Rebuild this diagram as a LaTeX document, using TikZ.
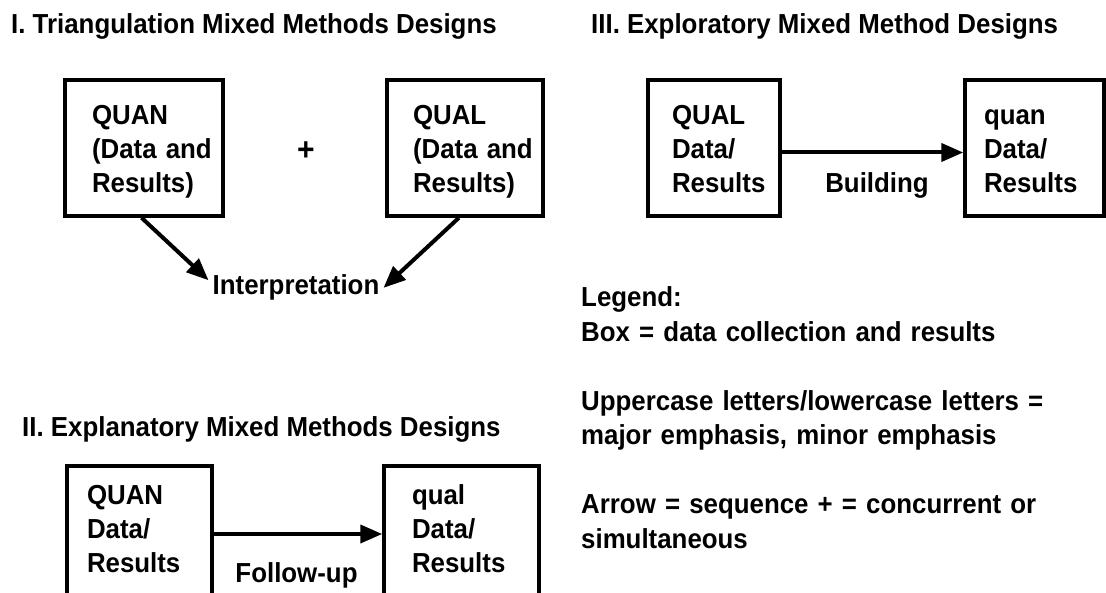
\documentclass[tikz,border=0pt]{standalone}
\usepackage{fontspec}
\setmainfont{Liberation Sans}[FakeStretch=0.94]
\usetikzlibrary{arrows.meta}
\begin{document}
\begin{tikzpicture}[x=1pt,y=-1pt,
  font=\fontsize{27.5}{34}\selectfont\bfseries,
  box/.style={draw, line width=3.5pt, minimum height=136pt, align=left,
    text height=19.7pt, text depth=65.7pt, inner ysep=0pt},
  lbl/.style={inner sep=0pt, anchor=base},
  title/.style={inner sep=0pt, anchor=base west},
  arr/.style={line width=4pt, -{Triangle[length=22pt,width=18pt]}}]
\fill[white] (0,0) rectangle (1106,593);
\clip (0,0) rectangle (1106,593);
% titles
\node[title] (t1) at (11,34) {I. Triangulation Mixed Methods Designs};
\node[title] (t3) at (591,34) {III. Exploratory Mixed Method Designs};
\node[title] (t2) at (22,437) {II. Explanatory Mixed Methods Designs};
% I. triangulation
\node[box, text width=104pt, inner xsep=27pt] (quanI) at (144,148) {QUAN\\(Data~and\\Results)};
\node[box, text width=104pt, inner xsep=26pt] (qualI) at (465,148) {QUAL\\(Data~and\\Results)};
\node[lbl, font=\fontsize{32}{34}\selectfont\bfseries] (plus) at (306,161) {+};
\node[lbl, inner sep=4pt] (interp) at (296,295) {Interpretation};
\draw[arr] (quanI.-92) -- (interp.175);
\draw[arr] (qualI.-95) -- (interp.east);
% III. exploratory
\node[box, text width=84pt, inner xsep=24pt] (qualIII) at (714,148) {QUAL\\Data/\\Results};
\node[box, text width=101pt, inner xsep=19pt] (quanIII) at (1034.5,148) {quan\\Data/\\Results};
\node[lbl] (building) at (877,193) {Building};
\draw[arr] ([yshift=-4.5pt]qualIII.east) -- ([yshift=-4.5pt]quanIII.west);
% II. explanatory
\node[box, text width=105pt, inner xsep=20pt, text depth=79.7pt] (quanII) at (139.5,534) {QUAN\\Data/\\Results};
\node[box, text width=99pt, inner xsep=28pt, text depth=79.7pt] (qualII) at (461.5,534) {qual\\Data/\\Results};
\node[lbl] (follow) at (296.5,582) {Follow-up};
\draw[arr] (quanII.east) -- (qualII.west);
% legend
\node[title, text width=520pt, align=left, font=\fontsize{27.5}{34.5}\selectfont\bfseries] (legend) at (581,307)
  {Legend:\\Box = data collection and results\\[34.5pt]Uppercase letters/lowercase letters =\\major emphasis, minor emphasis\\[34.5pt]Arrow = sequence + = concurrent or\\simultaneous};
\end{tikzpicture}
\end{document}
